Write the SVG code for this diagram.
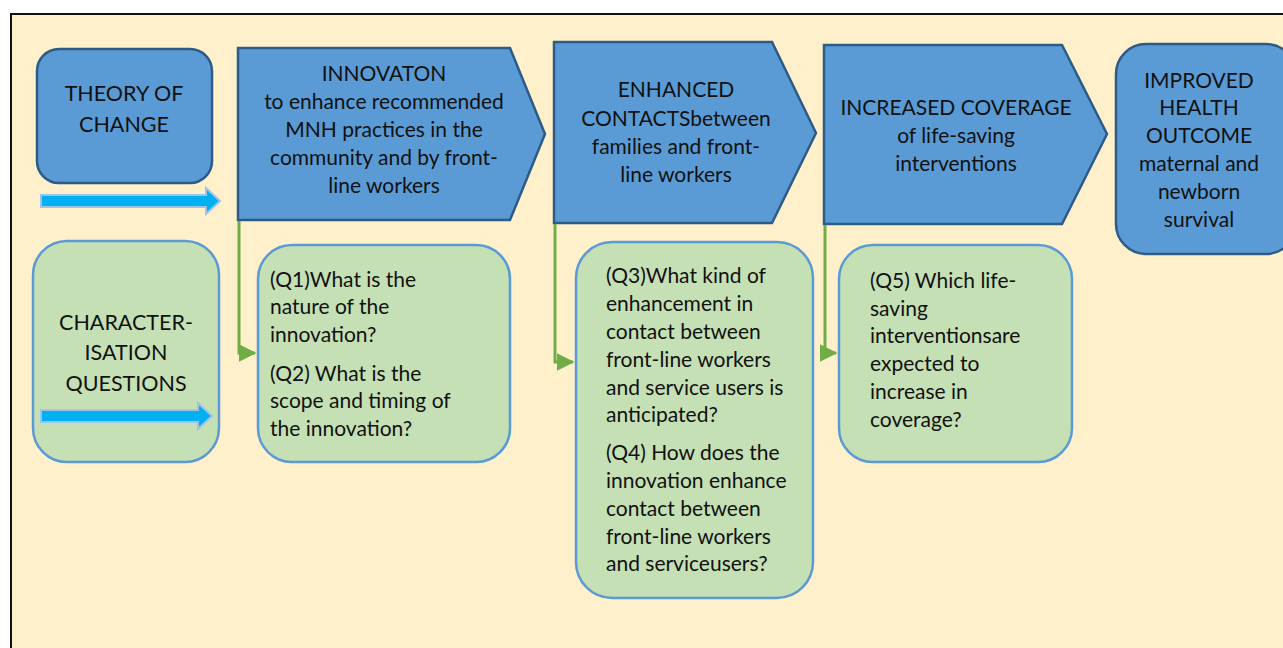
<svg xmlns="http://www.w3.org/2000/svg" width="1283" height="648" viewBox="0 0 1283 648">
<defs>
<style>
.t{font-family:Lato,"Open Sans","Liberation Sans",sans-serif;fill:#111;}
.h{font-size:21.5px;text-anchor:middle;}
.m{font-size:21px;text-anchor:middle;}
.q{font-size:21px;}
.blue{fill:#5B9BD5;stroke:#2D5B87;stroke-width:2.5;}
.green{fill:#C5E0B4;stroke:#5B9BD5;stroke-width:2.5;}
.bar{fill:#00B0F0;stroke:#9DC3E6;stroke-width:2;}
.conn{fill:none;stroke:#70AD47;stroke-width:3;}
</style>
<marker id="ah" markerWidth="6" markerHeight="6" refX="5.5" refY="3" orient="auto" markerUnits="strokeWidth">
<path d="M0,0 L6,3 L0,6 Z" fill="#70AD47"/>
</marker>
</defs>
<rect x="0" y="0" width="1283" height="648" fill="#FFFFFF"/>
<rect x="11" y="14" width="1280" height="640" fill="#FFF0CC" stroke="#111" stroke-width="2"/>

<g id="theory-of-change">
<rect class="blue" x="37" y="49" width="175" height="134" rx="22"/>
<text class="t h" x="124" y="101">THEORY OF</text>
<text class="t h" x="124" y="132">CHANGE</text>
</g>
<g id="toc-arrow">
<path class="bar" d="M41,195 H206 V188 L220,201 L206,214 V207 H41 Z"/>
</g>

<g id="characterisation">
<rect class="green" x="33" y="241" width="186" height="221" rx="34"/>
<text class="t h" x="126" y="330">CHARACTER-</text>
<text class="t h" x="126" y="360">ISATION</text>
<text class="t h" x="126" y="391">QUESTIONS</text>
</g>
<g id="cq-arrow">
<path class="bar" d="M41,410 H198 V403 L212,416 L198,429 V422 H41 Z"/>
</g>

<g id="innovation">
<path class="blue" d="M238,48 H510 L545,134 L510,220 H238 Z"/>
<text class="t m" x="384" y="81">INNOVATON</text>
<text class="t m" x="384" y="109">to enhance recommended</text>
<text class="t m" x="384" y="137">MNH practices in the</text>
<text class="t m" x="384" y="165">community and by front-</text>
<text class="t m" x="384" y="193">line workers</text>
</g>

<g id="enhanced-contacts">
<path class="blue" d="M554,42 H772 L816,133 L772,223 H554 Z"/>
<text class="t m" x="676" y="97">ENHANCED</text>
<text class="t m" x="676" y="126">CONTACTSbetween</text>
<text class="t m" x="676" y="154">families and front-</text>
<text class="t m" x="676" y="182">line workers</text>
</g>

<g id="increased-coverage">
<path class="blue" d="M824,45 H1062 L1107,134 L1062,224 H824 Z"/>
<text class="t m" x="956" y="115">INCREASED COVERAGE</text>
<text class="t m" x="956" y="143">of life-saving</text>
<text class="t m" x="956" y="171">interventions</text>
</g>

<g id="improved-health">
<rect class="blue" x="1116" y="44" width="180" height="210" rx="30"/>
<text class="t m" x="1199" y="88">IMPROVED</text>
<text class="t m" x="1199" y="115">HEALTH</text>
<text class="t m" x="1199" y="143">OUTCOME</text>
<text class="t m" x="1199" y="171">maternal and</text>
<text class="t m" x="1199" y="199">newborn</text>
<text class="t m" x="1199" y="227">survival</text>
</g>

<g id="q1-q2">
<rect class="green" x="258" y="245" width="252" height="217" rx="34"/>
<text class="t q" x="270" y="287">(Q1)What is the</text>
<text class="t q" x="270" y="314">nature of the</text>
<text class="t q" x="270" y="342">innovation?</text>
<text class="t q" x="270" y="381">(Q2) What is the</text>
<text class="t q" x="270" y="408">scope and timing of</text>
<text class="t q" x="270" y="436">the innovation?</text>
</g>

<g id="q3-q4">
<rect class="green" x="576" y="242" width="237" height="356" rx="36"/>
<text class="t q" x="606" y="283">(Q3)What kind of</text>
<text class="t q" x="606" y="311">enhancement in</text>
<text class="t q" x="606" y="339">contact between</text>
<text class="t q" x="606" y="367">front-line workers</text>
<text class="t q" x="606" y="395">and service users is</text>
<text class="t q" x="606" y="422">anticipated?</text>
<text class="t q" x="606" y="460">(Q4) How does the</text>
<text class="t q" x="606" y="488">innovation enhance</text>
<text class="t q" x="606" y="516">contact between</text>
<text class="t q" x="606" y="544">front-line workers</text>
<text class="t q" x="606" y="571">and serviceusers?</text>
</g>

<g id="q5">
<rect class="green" x="839" y="245" width="233" height="217" rx="34"/>
<text class="t q" x="870" y="288">(Q5) Which life-</text>
<text class="t q" x="870" y="316">saving</text>
<text class="t q" x="870" y="343">interventionsare</text>
<text class="t q" x="870" y="371">expected to</text>
<text class="t q" x="870" y="399">increase in</text>
<text class="t q" x="870" y="427">coverage?</text>
</g>

<g id="connectors">
<path class="conn" d="M239,221 V353 H255" marker-end="url(#ah)"/>
<path class="conn" d="M555,224 V362 H573" marker-end="url(#ah)"/>
<path class="conn" d="M825,225 V353 H836" marker-end="url(#ah)"/>
</g>
</svg>
